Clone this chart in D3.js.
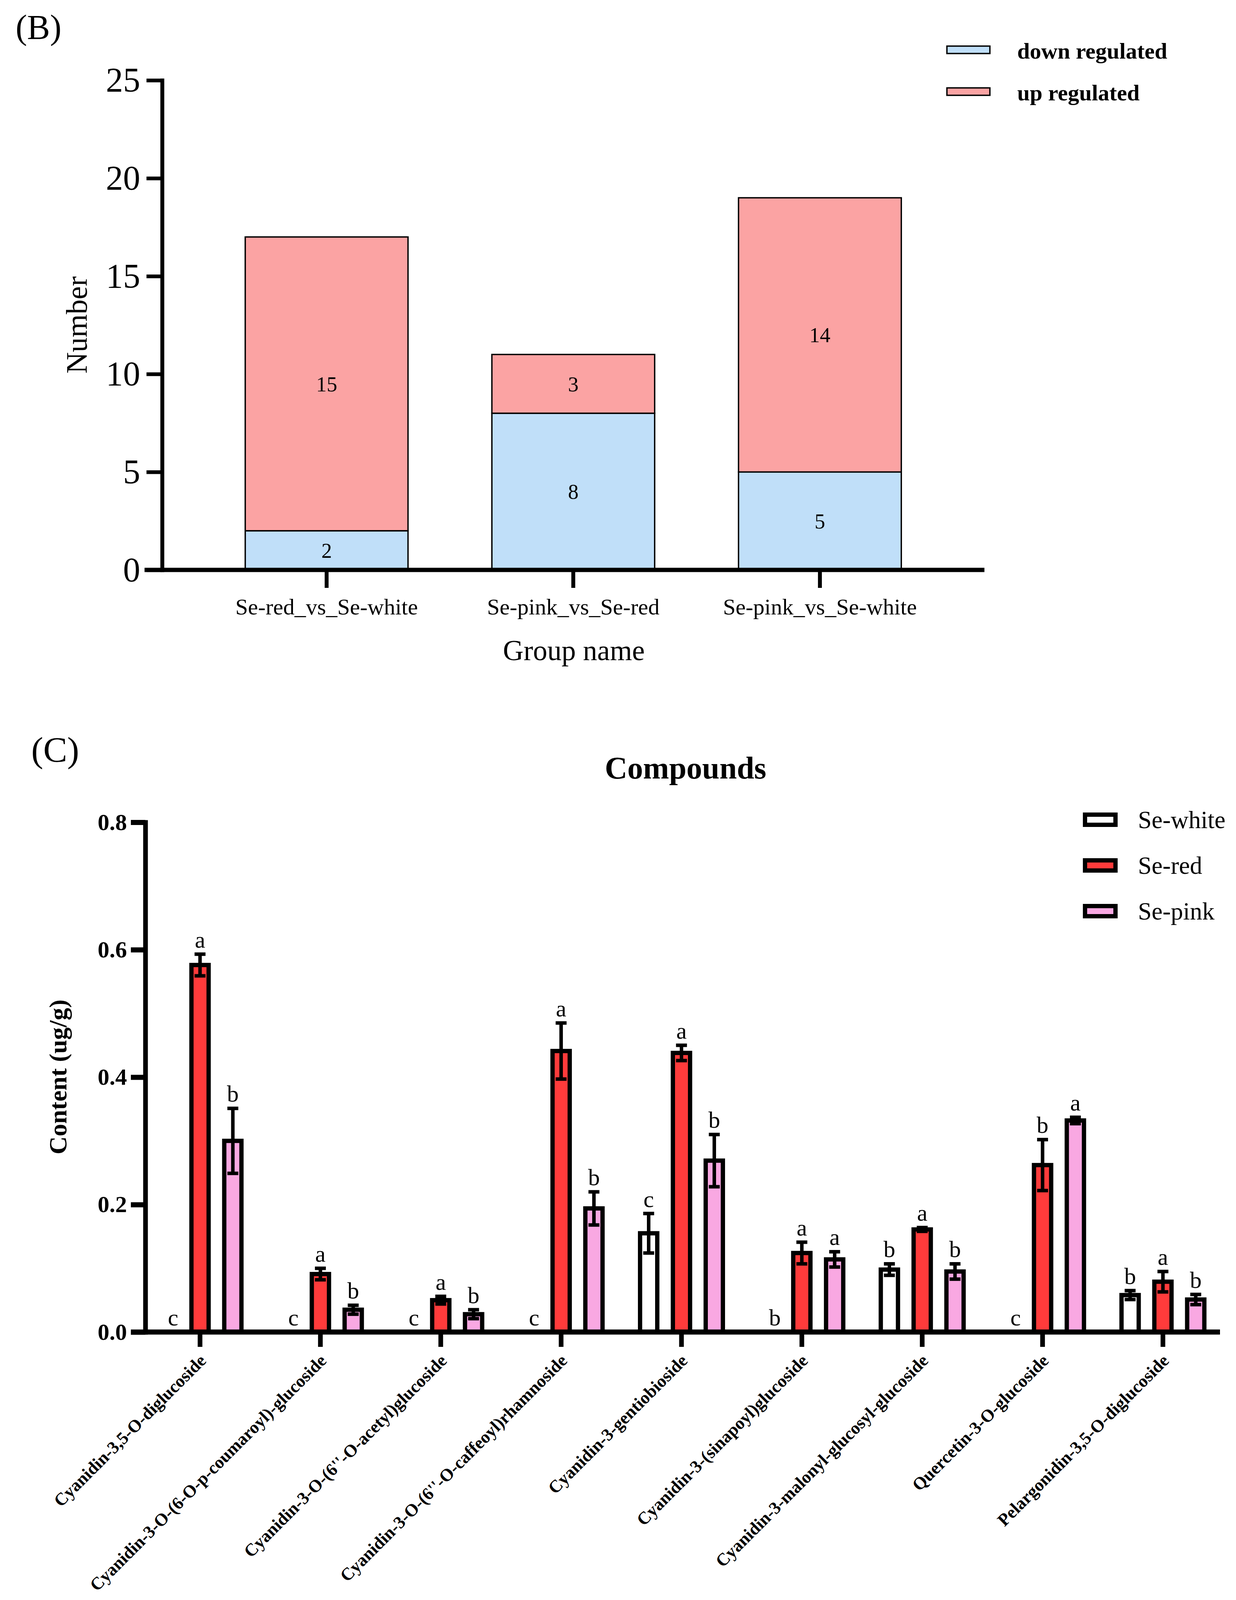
<!DOCTYPE html>
<html>
<head>
<meta charset="utf-8">
<script src="https://cdn.jsdelivr.net/npm/d3@7"></script>
<style>
  body { margin: 0; background: #fff; }
  svg { display: block; font-family: "Liberation Serif", "Times New Roman", serif; }
</style>
</head>
<body>
<svg id="chart" width="3164" height="4124"></svg>
<script>
// ---- panel B data ----
const groupsB = ["Se-red_vs_Se-white", "Se-pink_vs_Se-red", "Se-pink_vs_Se-white"];
const downB = [2, 8, 5];
const upB = [15, 3, 14];
const ticksB = [0, 5, 10, 15, 20, 25];
const legendB = ["down regulated", "up regulated"];

// ---- panel C data ----
const compounds = [
    "Cyanidin-3,5-O-diglucoside",
    "Cyanidin-3-O-(6-O-p-coumaroyl)-glucoside",
    "Cyanidin-3-O-(6''-O-acetyl)glucoside",
    "Cyanidin-3-O-(6''-O-caffeoyl)rhamnoside",
    "Cyanidin-3-gentiobioside",
    "Cyanidin-3-(sinapoyl)glucoside",
    "Cyanidin-3-malonyl-glucosyl-glucoside",
    "Quercetin-3-O-glucoside",
    "Pelargonidin-3,5-O-diglucoside"
];
const seriesC = ["Se-white", "Se-red", "Se-pink"];
const whiteMean = [0, 0, 0, 0, 0.155, 0, 0.098, 0, 0.058];
const whiteErr  = [0, 0, 0, 0, 0.031, 0, 0.009, 0, 0.007];
const redMean   = [0.576, 0.091, 0.050, 0.441, 0.438, 0.124, 0.161, 0.262, 0.079];
const redErr    = [0.017, 0.009, 0.006, 0.044, 0.012, 0.017, 0.003, 0.040, 0.016];
const pinkMean  = [0.300, 0.035, 0.028, 0.194, 0.269, 0.114, 0.095, 0.332, 0.051];
const pinkErr   = [0.051, 0.007, 0.007, 0.026, 0.041, 0.012, 0.012, 0.005, 0.008];
const whiteSig  = ["c", "c", "c", "c", "c", "b", "b", "c", "b"];
const redSig    = ["a", "a", "a", "a", "a", "a", "a", "b", "a"];
const pinkSig   = ["b", "b", "b", "b", "b", "a", "b", "a", "b"];
const ticksC = [0, 0.2, 0.4, 0.6, 0.8];

const colorB = { down: "#C0DFF9", up: "#FBA3A3" };
const colorC = { "Se-white": "#FFFFFF", "Se-red": "#FF3B3B", "Se-pink": "#F9A8E2" };

const svg = d3.select("#chart");
svg.append("rect").attr("width", 3164).attr("height", 4124).attr("fill", "#fff");

function drawPanelB() {
    const g = svg.append("g");
    const xB = d3.scaleBand().domain(groupsB).range([415, 2520]).paddingInner(0.34).paddingOuter(0.337);
    const yB = d3.scaleLinear().domain([0, 25]).range([1459, 205.5]);

    // stacked segments
    const rows = groupsB.map((name, i) => ({ name, down: downB[i], up: upB[i] }));
    const stack = d3.stack().keys(["down", "up"])(rows);

    stack.forEach(layer => {
        g.append("g").selectAll("rect")
            .data(layer)
            .join("rect")
            .attr("x", d => xB(d.data.name))
            .attr("y", d => yB(d[1]))
            .attr("width", xB.bandwidth())
            .attr("height", d => yB(d[0]) - yB(d[1]))
            .attr("fill", colorB[layer.key])
            .attr("stroke", "#000")
            .attr("stroke-width", 3.5);
    });

    stack.forEach(layer => {
        g.append("g").selectAll("text")
            .data(layer)
            .join("text")
            .attr("x", d => xB(d.data.name) + xB.bandwidth() / 2)
            .attr("y", d => yB((d[0] + d[1]) / 2))
            .attr("dy", "0.35em")
            .attr("text-anchor", "middle")
            .attr("font-size", 54)
            .text(d => d[1] - d[0]);
    });

    // y axis
    const yAxis = g.append("g")
        .attr("transform", "translate(415,0)")
        .call(d3.axisLeft(yB).tickValues(ticksB).tickSize(40).tickSizeOuter(0).tickPadding(16));
    yAxis.select(".domain").attr("stroke-width", 10).attr("stroke-linecap", "square");
    yAxis.selectAll(".tick line").attr("stroke-width", 9.5);
    yAxis.selectAll(".tick text").attr("font-size", 88).attr("font-family", "Liberation Serif").attr("fill", "#000");

    // x axis
    const xAxis = g.append("g")
        .attr("transform", "translate(0,1459)")
        .call(d3.axisBottom(xB).tickSize(46).tickSizeOuter(0));
    xAxis.select(".domain").remove();
    xAxis.selectAll(".tick line").attr("stroke-width", 10);
    xAxis.selectAll(".tick text")
        .attr("y", 114).attr("dy", 0)
        .attr("font-size", 58).attr("font-family", "Liberation Serif").attr("fill", "#000");
    xAxis.append("line")
        .attr("x1", 370).attr("x2", 2520)
        .attr("stroke", "#000").attr("stroke-width", 11);

    // titles
    g.append("text").attr("x", 1469).attr("y", 1690).attr("text-anchor", "middle")
        .attr("font-size", 73).text("Group name");
    g.append("text").attr("transform", "translate(222,832) rotate(-90)").attr("text-anchor", "middle")
        .attr("font-size", 76).text("Number");
    g.append("text").attr("x", 40).attr("y", 99).attr("font-size", 88).text("(B)");

    // legend
    const lg = g.append("g").selectAll("g")
        .data(legendB)
        .join("g")
        .attr("transform", (d, i) => `translate(2424,${118 + i * 107})`);
    lg.append("rect").attr("width", 110).attr("height", 19)
        .attr("fill", (d, i) => i === 0 ? colorB.down : colorB.up)
        .attr("stroke", "#000").attr("stroke-width", 3.5);
    lg.append("text").attr("x", 180).attr("y", 32)
        .attr("font-size", 58).attr("font-weight", "bold").text(d => d);
}

function drawPanelC() {
    const g = svg.append("g");
    const xC = d3.scaleBand().domain(compounds).range([358, 3131]).padding(0);
    const xS = d3.scaleBand().domain(seriesC).range([-126, 126]).paddingInner(0.476).paddingOuter(0.238);
    const yC = d3.scaleLinear().domain([0, 0.8]).range([3410, 2105]);

    const means = { "Se-white": whiteMean, "Se-red": redMean, "Se-pink": pinkMean };
    const errs = { "Se-white": whiteErr, "Se-red": redErr, "Se-pink": pinkErr };
    const sigs = { "Se-white": whiteSig, "Se-red": redSig, "Se-pink": pinkSig };

    const cells = [];
    compounds.forEach((c, i) => {
        seriesC.forEach(s => {
            cells.push({ c, s, m: means[s][i], e: errs[s][i], sig: sigs[s][i] });
        });
    });
    const cx = d => xC(d.c) + xC.bandwidth() / 2 + xS(d.s) + xS.bandwidth() / 2;

    g.append("g").selectAll("rect")
        .data(cells.filter(d => d.m > 0))
        .join("rect")
        .attr("x", d => cx(d) - xS.bandwidth() / 2)
        .attr("y", d => yC(d.m))
        .attr("width", xS.bandwidth())
        .attr("height", d => yC(0) - yC(d.m))
        .attr("fill", d => colorC[d.s])
        .attr("stroke", "#000")
        .attr("stroke-width", 11);

    // error bars
    const eb = g.append("g").attr("stroke", "#000").attr("stroke-width", 9)
        .selectAll("g")
        .data(cells.filter(d => d.e > 0))
        .join("g");
    eb.append("line")
        .attr("x1", cx).attr("x2", cx)
        .attr("y1", d => yC(d.m + d.e)).attr("y2", d => yC(d.m - d.e));
    eb.append("line")
        .attr("x1", d => cx(d) - 14).attr("x2", d => cx(d) + 14)
        .attr("y1", d => yC(d.m + d.e)).attr("y2", d => yC(d.m + d.e));
    eb.append("line")
        .attr("x1", d => cx(d) - 14).attr("x2", d => cx(d) + 14)
        .attr("y1", d => yC(d.m - d.e)).attr("y2", d => yC(d.m - d.e));

    // significance letters (empty bars get their letter nudged right, as in Prism)
    g.append("g").selectAll("text")
        .data(cells)
        .join("text")
        .attr("x", d => cx(d) + (d.m > 0 ? 0 : 15))
        .attr("y", d => yC(d.m + d.e) - 17)
        .attr("text-anchor", "middle")
        .attr("font-size", 60)
        .text(d => d.sig);

    // y axis
    const yAxis = g.append("g")
        .attr("transform", "translate(372,0)")
        .call(d3.axisLeft(yC).tickValues(ticksC).tickFormat(d3.format(".1f"))
            .tickSize(37).tickSizeOuter(0).tickPadding(10));
    yAxis.select(".domain").attr("stroke-width", 12).attr("stroke-linecap", "square");
    yAxis.selectAll(".tick line").attr("stroke-width", 13);
    yAxis.selectAll(".tick text").attr("font-size", 60).attr("font-weight", "bold")
        .attr("font-family", "Liberation Serif").attr("fill", "#000");

    // x axis
    const xAxis = g.append("g")
        .attr("transform", "translate(0,3410)")
        .call(d3.axisBottom(xC).tickSize(38).tickSizeOuter(0).tickFormat(""));
    xAxis.select(".domain").remove();
    xAxis.selectAll(".tick line").attr("stroke-width", 12);
    xAxis.append("line")
        .attr("x1", 335).attr("x2", 3123)
        .attr("stroke", "#000").attr("stroke-width", 13);

    g.append("g").selectAll("text")
        .data(compounds)
        .join("text")
        .attr("transform", d => `translate(${xC(d) + xC.bandwidth() / 2 + 18},3486) rotate(-45)`)
        .attr("text-anchor", "end")
        .attr("font-size", 45)
        .attr("font-weight", "bold")
        .text(d => d);

    // titles
    g.append("text").attr("x", 1755).attr("y", 1993).attr("text-anchor", "middle")
        .attr("font-size", 80).attr("font-weight", "bold").text("Compounds");
    g.append("text").attr("transform", "translate(170,2757) rotate(-90)").attr("text-anchor", "middle")
        .attr("font-size", 64).attr("font-weight", "bold").text("Content (ug/g)");
    g.append("text").attr("x", 80).attr("y", 1950).attr("font-size", 92).text("(C)");

    // legend
    const lg = g.append("g").selectAll("g")
        .data(seriesC)
        .join("g")
        .attr("transform", (d, i) => `translate(2777.5,${2085.5 + i * 117})`);
    lg.append("rect").attr("width", 78).attr("height", 26)
        .attr("fill", d => colorC[d])
        .attr("stroke", "#000").attr("stroke-width", 11);
    lg.append("text").attr("x", 135.5).attr("y", 34.5)
        .attr("font-size", 63).text(d => d);
}

drawPanelB();
drawPanelC();
</script>
</body>
</html>
